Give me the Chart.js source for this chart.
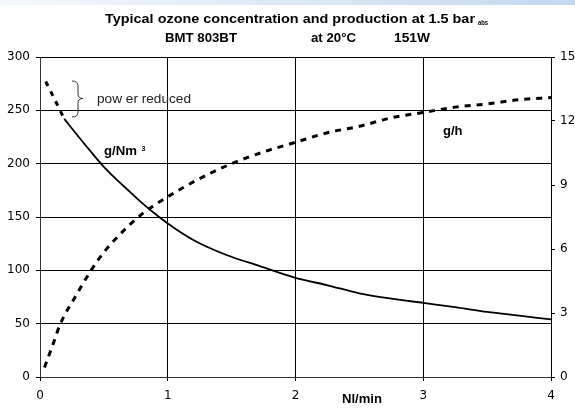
<!DOCTYPE html>
<html>
<head>
<meta charset="utf-8">
<script src="https://cdn.jsdelivr.net/npm/chart.js@4.4.1/dist/chart.umd.min.js"></script>
<style>
  html, body { margin: 0; padding: 0; background: #fff; }
  #wrap { width: 575px; height: 409px; }
</style>
</head>
<body>
<div id="wrap"><canvas id="ozone" width="575" height="409"></canvas></div>
<script>
// ── Data ──────────────────────────────────────────────────────────────────

const X_TICKS = [0, 1, 2, 3, 4];
const LEFT_TICKS = [0, 50, 100, 150, 200, 250, 300];
const RIGHT_TICKS = [0, 3, 6, 9, 12, 15];

// concentration, power reduced part (dashed), g/Nm3
const flowReduced = [0.045, 0.12, 0.19];
const concReduced = [277, 259, 242];

// concentration, normal part (solid), g/Nm3
const flowConc = [0.19, 0.3, 0.4, 0.5, 0.6, 0.7, 0.8, 0.9, 1.0, 1.2, 1.46, 1.72, 2.0, 2.25, 2.5, 2.75, 3.0, 3.25, 3.5, 3.75, 4.0];
const concentration = [242, 225.5, 211, 197, 185, 174, 163, 153, 144, 128.5, 114.4, 104, 93, 86, 78.5, 73.5, 69.5, 65.5, 61, 57.5, 54];

// production, g/h (right axis)
const flowProd = [0.035, 0.1, 0.16, 0.28, 0.4, 0.5, 0.62, 0.79, 1.0, 1.25, 1.5, 1.75, 2.0, 2.25, 2.5, 2.75, 3.0, 3.25, 3.5, 3.75, 4.0];
const production = [0.45, 1.5, 2.5, 3.8, 5.0, 5.85, 6.65, 7.6, 8.45, 9.3, 10.0, 10.55, 11.0, 11.45, 11.75, 12.15, 12.4, 12.65, 12.8, 13.0, 13.1];

const FONT = 'Arial, "Liberation Sans", sans-serif';
const TICK_FONT = '"DejaVu Sans", sans-serif';

function toPoints(xs, ys) {
  return xs.map((x, i) => ({ x, y: ys[i] }));
}

// draw text squeezed/stretched to a given width (the source text is wide)
function fitText(ctx, text, x, y, width) {
  const w = ctx.measureText(text).width;
  ctx.save();
  ctx.translate(x, y);
  ctx.scale(width / w, 1);
  ctx.fillText(text, 0, 0);
  ctx.restore();
}

// ── Annotations: title, curve labels, brace ───────────────────────────────

const annotations = {
  id: 'annotations',
  beforeDraw(chart) {
    const ctx = chart.ctx;
    const g = ctx.createLinearGradient(0, 0, 575, 0);
    g.addColorStop(0, '#f6f9fd');
    g.addColorStop(1, '#c3d8ef');
    ctx.save();
    ctx.fillStyle = g;
    ctx.fillRect(0, 0, 575, 5);
    ctx.restore();
  },
  afterDraw(chart) {
    const ctx = chart.ctx;
    ctx.save();
    ctx.fillStyle = '#000';
    ctx.textBaseline = 'alphabetic';
    ctx.textAlign = 'left';

    // title
    ctx.font = 'bold 13px ' + FONT;
    fitText(ctx, 'Typical ozone concentration and production at 1.5 bar', 105, 22.5, 370);
    ctx.font = 'bold 7px ' + FONT;
    fitText(ctx, 'abs', 478, 24.5, 10);

    ctx.font = 'bold 13px ' + FONT;
    fitText(ctx, 'BMT 803BT', 165, 42, 72);
    fitText(ctx, 'at 20°C', 311, 42, 45);
    fitText(ctx, '151W', 394, 42, 36);

    // curve labels
    ctx.font = 'bold 12px ' + FONT;
    fitText(ctx, 'g/Nm', 104, 155, 33);
    ctx.font = 'bold 7px ' + FONT;
    ctx.fillText('3', 141.5, 150.5);

    ctx.font = 'bold 12px ' + FONT;
    fitText(ctx, 'g/h', 443, 134.5, 19.5);

    fitText(ctx, 'Nl/min', 342, 403, 40);

    ctx.font = '13px ' + FONT;
    ctx.fillStyle = '#222';
    fitText(ctx, 'pow er reduced', 97, 102.5, 94);

    // brace
    ctx.strokeStyle = '#333';
    ctx.lineWidth = 1;
    ctx.beginPath();
    ctx.moveTo(72, 81);
    ctx.quadraticCurveTo(78, 81, 78, 86);
    ctx.lineTo(78, 94);
    ctx.quadraticCurveTo(78, 98.5, 83, 98.5);
    ctx.quadraticCurveTo(78, 98.5, 78, 103);
    ctx.lineTo(78, 112);
    ctx.quadraticCurveTo(78, 117, 72, 117);
    ctx.stroke();
    ctx.restore();
  }
};

// ── Chart ─────────────────────────────────────────────────────────────────

const tickFont = { family: TICK_FONT, size: 12 };

new Chart(document.getElementById('ozone'), {
  type: 'line',
  data: {
    datasets: [
      {
        label: 'power reduced',
        data: toPoints(flowReduced, concReduced),
        yAxisID: 'y',
        borderColor: '#000',
        borderWidth: 3,
        borderDash: [5, 6],
        pointRadius: 0,
        tension: 0,
      },
      {
        label: 'g/Nm3',
        data: toPoints(flowConc, concentration),
        yAxisID: 'y',
        borderColor: '#000',
        borderWidth: 1.8,
        pointRadius: 0,
        cubicInterpolationMode: 'monotone',
      },
      {
        label: 'g/h',
        data: toPoints(flowProd, production),
        yAxisID: 'y1',
        borderColor: '#000',
        borderWidth: 3,
        borderDash: [6, 6],
        pointRadius: 0,
        cubicInterpolationMode: 'monotone',
      },
    ]
  },
  options: {
    responsive: false,
    animation: false,
    layout: { padding: { top: 57, left: 0, right: 0, bottom: 0 } },
    plugins: {
      legend: { display: false },
      title: { display: false },
      tooltip: { enabled: false },
    },
    scales: {
      x: {
        type: 'linear',
        min: 0, max: 4,
        afterFit: s => { s.height = 32; },
        afterBuildTicks: s => { s.ticks = X_TICKS.map(v => ({ value: v })); },
        grid: { color: '#000', lineWidth: 1, tickLength: 4 },
        border: { color: '#333', width: 1 },
        ticks: { color: '#000', font: tickFont, padding: 8, maxRotation: 0 },
      },
      y: {
        position: 'left',
        min: 0, max: 300,
        afterFit: s => { s.width = 40; },
        afterBuildTicks: s => { s.ticks = LEFT_TICKS.map(v => ({ value: v })); },
        grid: { color: '#000', lineWidth: 1, tickLength: 4 },
        border: { color: '#333', width: 1 },
        ticks: { color: '#000', font: tickFont, padding: 6 },
      },
      y1: {
        position: 'right',
        min: 0, max: 15,
        afterFit: s => { s.width = 24; },
        afterBuildTicks: s => { s.ticks = RIGHT_TICKS.map(v => ({ value: v })); },
        grid: { drawOnChartArea: false, color: '#000', tickLength: 4 },
        border: { color: '#000', width: 1 },
        ticks: { color: '#000', font: tickFont, padding: 5 },
      },
    }
  },
  plugins: [annotations]
});
</script>
</body>
</html>
